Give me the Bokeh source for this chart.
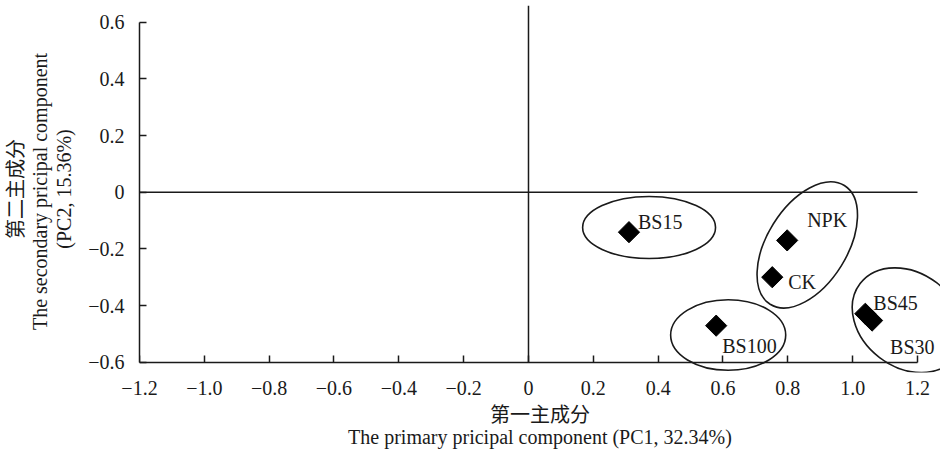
import math
from bokeh.plotting import figure
from bokeh.models import ColumnDataSource, Range1d, FixedTicker, LinearAxis
from bokeh.core.properties import value
from bokeh.embed import file_html
from bokeh.resources import INLINE

# ---------------- data ----------------
treatments = ["BS15", "NPK", "CK", "BS100", "BS45", "BS30"]
pc1 = [0.310, 0.798, 0.752, 0.579, 1.039, 1.060]
pc2 = [-0.141, -0.170, -0.300, -0.471, -0.429, -0.453]

# group ellipses (centre, width along major axis, height, angle in degrees)
group_names = ["BS15", "NPK+CK", "BS100", "BS45+BS30"]
group_cx = [0.372, 0.860, 0.616, 1.171]
group_cy = [-0.1245, -0.186, -0.504, -0.4515]
group_w = [0.410, 0.432, 0.355, 0.372]
group_h = [0.219, 0.282, 0.249, 0.332]
group_angle_deg = [0, 58, 0, -37.3]

x_ticks = [-1.2, -1.0, -0.8, -0.6, -0.4, -0.2, 0.0, 0.2, 0.4, 0.6, 0.8, 1.0, 1.2]
x_tick_labels = ["\u22121.2", "\u22121.0", "\u22120.8", "\u22120.6", "\u22120.4", "\u22120.2",
                 "0", "0.2", "0.4", "0.6", "0.8", "1.0", "1.2"]
y_ticks = [-0.6, -0.4, -0.2, 0.0, 0.2, 0.4, 0.6]
y_tick_labels = ["\u22120.6", "\u22120.4", "\u22120.2", "0", "0.2", "0.4", "0.6"]

x_title = "第一主成分\nThe primary pricipal component (PC1, 32.34%)"
y_title = "第二主成分\nThe secondary  pricipal component\n(PC2, 15.36%)"

# ---------------- styles ----------------
label_dx = [9, 20, 16, 6, 8, 18]      # screen px offsets of the point labels
label_dy = [-10, -20, 5, 20, -11, 26]
FONT = "Liberation Serif, Noto Sans CJK SC"
INK = "#1a1a1a"
FS = "20px"
Y_TOP = 0.659
Y_BOTTOM = -0.6363

p = figure(width=940, height=457, output_backend="svg", toolbar_location=None,
           x_range=Range1d(-1.2, 1.271), y_range=Range1d(Y_BOTTOM, Y_TOP),
           min_border_left=139, min_border_right=0, min_border_top=5,
           min_border_bottom=85)
p.outline_line_color = None
p.xgrid.visible = False
p.ygrid.visible = False
p.background_fill_color = "white"
p.border_fill_color = "white"

# x axis line + inward ticks, pinned at y = -0.6
xa = p.xaxis[0]
xa.ticker = FixedTicker(ticks=x_ticks)
xa.bounds = (x_ticks[0], x_ticks[-1])
xa.fixed_location = y_ticks[0]
xa.major_label_text_font_size = "0px"
xa.major_label_text_color = None
xa.minor_tick_line_color = None
xa.major_tick_in = 7
xa.major_tick_out = 0
xa.axis_line_width = 1.5
xa.axis_line_color = INK
xa.major_tick_line_width = 1.5
xa.major_tick_line_color = INK

# x tick labels + title (second axis in the bottom panel, no line/ticks)
xl = LinearAxis(ticker=FixedTicker(ticks=x_ticks),
                major_label_overrides={t: l for t, l in zip(x_ticks, x_tick_labels)},
                axis_label=x_title)
xl.axis_line_color = None
xl.major_tick_line_color = None
xl.minor_tick_line_color = None
xl.major_tick_in = 0
xl.major_tick_out = 0
xl.major_label_standoff = 8
xl.axis_label_standoff = 6
xl.axis_label_text_line_height = 1.0
xl.major_label_text_font = FONT
xl.major_label_text_font_size = FS
xl.major_label_text_color = INK
xl.axis_label_text_font = FONT
xl.axis_label_text_font_size = FS
xl.axis_label_text_font_style = "normal"
xl.axis_label_text_color = INK
p.add_layout(xl, "below")

ya = p.yaxis[0]
ya.ticker = FixedTicker(ticks=y_ticks)
ya.major_label_overrides = {t: l for t, l in zip(y_ticks, y_tick_labels)}
ya.bounds = (y_ticks[0], y_ticks[-1])
ya.axis_label = y_title
ya.major_label_standoff = 15
ya.axis_label_standoff = 10
ya.axis_label_text_line_height = 1.1
ya.minor_tick_line_color = None
ya.major_tick_in = 7
ya.major_tick_out = 0
ya.axis_line_width = 1.5
ya.axis_line_color = INK
ya.major_tick_line_width = 1.5
ya.major_tick_line_color = INK
ya.major_label_text_font = FONT
ya.major_label_text_font_size = FS
ya.major_label_text_color = INK
ya.axis_label_text_font = FONT
ya.axis_label_text_font_size = FS
ya.axis_label_text_font_style = "normal"
ya.axis_label_text_color = INK

# zero reference lines
p.line(x=[0, 0], y=[y_ticks[0], Y_TOP], line_color=INK, line_width=1.5)
p.line(x=[x_ticks[0], x_ticks[-1]], y=[0, 0], line_color=INK, line_width=1.5)

# group ellipses
esrc = ColumnDataSource(dict(x=group_cx, y=group_cy, w=group_w, h=group_h,
                             a=[math.radians(d) for d in group_angle_deg], name=group_names))
p.ellipse(x="x", y="y", width="w", height="h", angle="a", source=esrc,
          fill_color=None, line_color=INK, line_width=1.6)

# points
src = ColumnDataSource(dict(x=pc1, y=pc2, t=treatments, dx=label_dx, dy=label_dy))
p.scatter(x="x", y="y", source=src, marker="square", size=15, angle=math.pi / 4,
          fill_color="black", line_color="black")
p.text(x="x", y="y", text="t", x_offset="dx", y_offset="dy", source=src,
       text_font=value(FONT), text_font_size=value(FS), text_color=INK,
       text_align="left", text_baseline="middle")

open("out.html", "w").write(file_html(p, INLINE))
